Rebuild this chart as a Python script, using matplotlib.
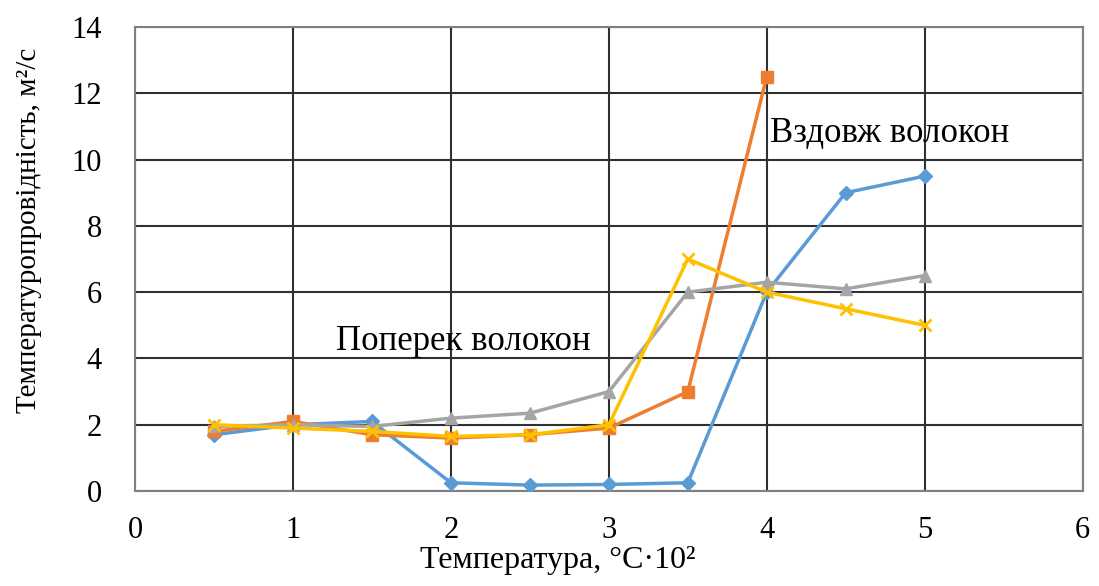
import matplotlib
matplotlib.use('Agg')
import matplotlib.pyplot as plt

plt.rcParams['font.family'] = ['Liberation Serif', 'DejaVu Serif']

# temperature, °C*10^2
temp = [0.5, 1, 1.5, 2, 2.5, 3, 3.5, 4, 4.5, 5]
temp_short = [0.5, 1, 1.5, 2, 2.5, 3, 3.5, 4]

# thermal diffusivity series
s_blue = [1.7, 2.0, 2.1, 0.25, 0.18, 0.2, 0.25, 6.0, 9.0, 9.5]
s_orange = [1.8, 2.1, 1.7, 1.6, 1.7, 1.9, 3.0, 12.5]
s_gray = [1.95, 2.0, 1.95, 2.2, 2.35, 3.0, 6.0, 6.3, 6.1, 6.5]
s_yellow = [2.0, 1.9, 1.8, 1.65, 1.7, 2.0, 7.0, 6.0, 5.5, 5.0]

fig = plt.figure(figsize=(10.99, 5.86), dpi=100)
ax = fig.add_axes([0.123, 0.162, 0.862, 0.792])

ax.plot(temp, s_blue, color='#5B9BD5', lw=2.5, marker='D', ms=7, zorder=3)
ax.plot(temp_short, s_orange, color='#ED7D31', lw=2.5, marker='s', ms=9, zorder=3)
ax.plot(temp, s_gray, color='#A5A5A5', lw=2.5, marker='^', ms=9, zorder=3)
ax.plot(temp, s_yellow, color='#FFC000', lw=2.5, marker='x', ms=9, mew=2, zorder=4)

ax.set_xlim(0, 6)
ax.set_ylim(0, 14)
ax.set_xticks(range(0, 7))
ax.set_yticks(range(0, 15, 2))
ax.grid(True, color='#303030', lw=1.5)
ax.set_axisbelow(True)
for sp in ax.spines.values():
    sp.set_color('#808080')
    sp.set_linewidth(1.5)
ax.tick_params(length=0, labelsize=22)
ax.tick_params(axis='x', pad=18)
ax.tick_params(axis='y', pad=24)

ax.set_xlabel('Температура, °C·10²', fontsize=23)
ax.xaxis.set_label_coords(0.446, -0.118)
ax.set_ylabel('Температуропровідність, м²/с', fontsize=21)
ax.yaxis.set_label_coords(-0.098, 0.5625)

ax.text(1.27, 4.5, 'Поперек волокон', fontsize=25, va='center', ha='left')
ax.text(4.02, 10.8, 'Вздовж волокон', fontsize=25, va='center', ha='left')

fig.savefig('out.png', dpi=100)
